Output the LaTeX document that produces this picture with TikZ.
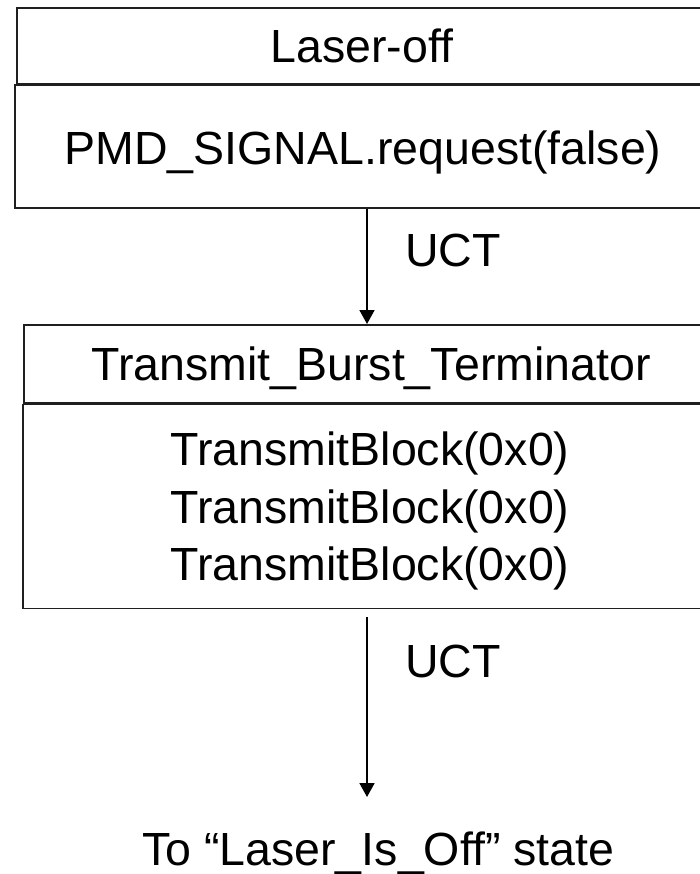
\documentclass[tikz,border=0pt]{standalone}
\usepackage{fontspec}
\setmainfont{Liberation Sans}
\usetikzlibrary{arrows.meta}
\begin{document}
\begin{tikzpicture}[x=1pt,y=-1pt,
  compbox/.style={draw=black!88,line width=1.8pt},
  txt/.style={inner sep=0pt,font=\fontsize{46.5}{57.5}\selectfont,text=black},
  arr/.style={draw=black,line width=1.8pt,-{Triangle[width=15pt,length=14pt]}}]
\useasboundingbox (0,0) rectangle (700,874);
\clip (0,0) rectangle (700,874);
\fill[white] (0,0) rectangle (700,874);
% state 1
\node[compbox,anchor=north west,inner sep=0pt,minimum width=694pt,minimum height=76pt] (b1up) at (16,7) {};
\node[compbox,anchor=north west,inner sep=0pt,minimum width=696pt,minimum height=123pt] (b1low) at (14,84.5) {};
\node[txt,anchor=base] (t1) at (362,63) {Laser-off};
\node[txt,anchor=base] (t2) at (363,165) {PMD\_SIGNAL.request(false)};
% state 2
\node[compbox,anchor=north west,inner sep=0pt,minimum width=687pt,minimum height=78pt] (b2up) at (23,324) {};
\node[compbox,anchor=north west,inner sep=0pt,minimum width=688pt,minimum height=204pt] (b2low) at (22,403.5) {};
\node[txt,anchor=base] (t3) at (371,380) {Transmit\_Burst\_Terminator};
\node[txt,anchor=base] (t4) at (370,465) {TransmitBlock(0x0)};
\node[txt,anchor=base] (t5) at (370,523) {TransmitBlock(0x0)};
\node[txt,anchor=base] (t6) at (370,580) {TransmitBlock(0x0)};
% transitions
\coordinate (ax) at (367,0);
\coordinate (endpt) at (367,797);
\draw[arr] (ax |- b1low.south) -- (ax |- b2up.north);
\node[txt,anchor=base west] (u1) at (405,267) {UCT};
\draw[arr] ([yshift=-8pt]ax |- b2low.south) -- (endpt);
\node[txt,anchor=base west] (u2) at (405,677) {UCT};
\node[txt,anchor=base west] (t7) at (142,865) {To “Laser\_Is\_Off” state};
\end{tikzpicture}
\end{document}
